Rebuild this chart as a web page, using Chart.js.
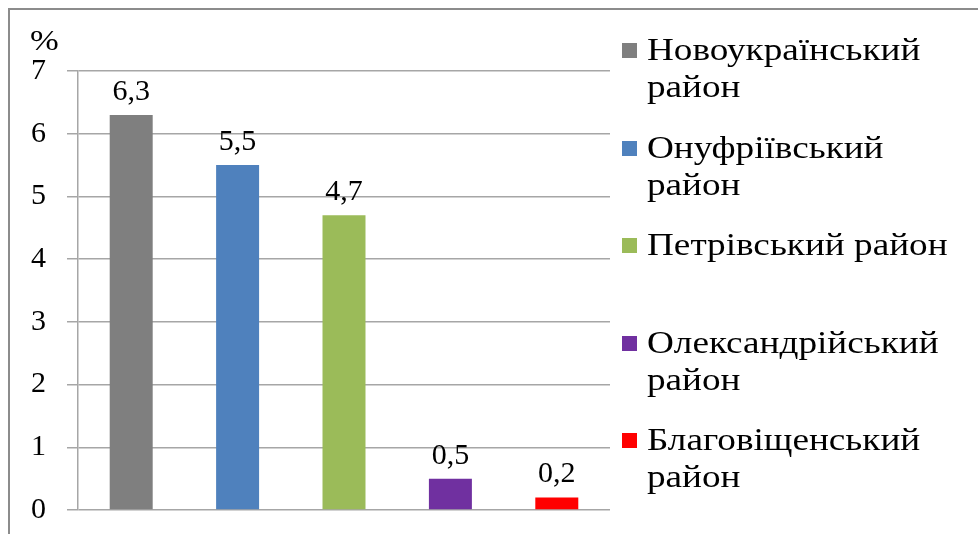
<!DOCTYPE html>
<html>
<head>
<meta charset="utf-8">
<script src="https://cdn.jsdelivr.net/npm/chart.js@4"></script>
<style>
  html, body { margin: 0; padding: 0; background: #fff; }
  .wrap { position: relative; width: 978px; height: 534px; overflow: hidden; }
  .frame { position: absolute; left: 8px; top: 8px; width: 1100px; height: 700px;
           border-left: 2px solid #8c8c8c; border-top: 2px solid #8c8c8c; }
  .unit { position: absolute; left: 30px; top: 23px; font: 30px "Liberation Serif", serif; color: #000;
          transform: scaleX(1.15); transform-origin: left top; }
  .legend { position: absolute; left: 622px; top: 31px; font: 31px "Liberation Serif", serif; color: #000; }
  .legend .item { position: relative; height: 97.5px; }
  .legend .box { position: absolute; left: 0; top: 12px; width: 15px; height: 15px; }
  .legend .txt { position: absolute; left: 25px; top: 0; line-height: 37px; white-space: nowrap;
                 transform: scaleX(1.2); transform-origin: left top; }
</style>
</head>
<body>
<div class="wrap">
  <div class="frame"></div>
  <canvas id="chart" width="978" height="534"></canvas>
  <div class="unit">%</div>
  <div class="legend" id="legend"></div>
</div>
<script>
"use strict";

////// data
const districts = ["Новоукраїнський район", "Онуфріївський район", "Петрівський район", "Олександрійський район", "Благовіщенський район"];
const legendLines = [["Новоукраїнський", "район"], ["Онуфріївський", "район"], ["Петрівський район"], ["Олександрійський", "район"], ["Благовіщенський", "район"]];
const shares = [6.3, 5.5, 4.7, 0.5, 0.2];
const barColors = ["#7f7f7f", "#4f81bd", "#9bbb59", "#7030a0", "#ff0000"];
const yTicks = [0, 1, 2, 3, 4, 5, 6, 7];

const serif = "'Liberation Serif', 'Times New Roman', serif";
const gridGray = "#a6a6a6";

////// value labels above the bars, comma decimals
const valueLabels = {
  id: "valueLabels",
  afterDatasetsDraw(chart) {
    const ctx = chart.ctx;
    const meta = chart.getDatasetMeta(0);
    ctx.save();
    ctx.font = "30px " + serif;
    ctx.fillStyle = "#000";
    ctx.textAlign = "center";
    ctx.textBaseline = "alphabetic";
    meta.data.forEach((bar, i) => {
      const txt = String(shares[i]).replace(".", ",");
      ctx.fillText(txt, bar.x, bar.y - 15);
    });
    ctx.restore();
  },
};

new Chart(document.getElementById("chart"), {
  type: "bar",
  data: {
    labels: districts,
    datasets: [
      {
        label: "%",
        data: shares,
        backgroundColor: barColors,
        borderWidth: 0,
        barPercentage: 0.404,
        categoryPercentage: 1,
      },
    ],
  },
  options: {
    responsive: false,
    animation: false,
    layout: { padding: { top: 71, right: 368, bottom: 24, left: 0 } },
    plugins: {
      legend: { display: false },
      tooltip: { enabled: false },
    },
    scales: {
      x: { display: false },
      y: {
        min: 0,
        max: 7,
        afterFit(scale) {
          scale.width = 78;
          // the layout padding already leaves room for the end labels
          scale.paddingTop = 0;
          scale.paddingBottom = 0;
        },
        afterBuildTicks(scale) {
          scale.ticks = yTicks.map((v) => ({ value: v }));
        },
        ticks: {
          font: { family: serif, size: 30 },
          color: "#000",
          padding: 21,
        },
        grid: { color: gridGray, lineWidth: 1.5, tickLength: 11 },
        border: { color: gridGray, width: 1.5 },
      },
    },
  },
  plugins: [valueLabels],
});

////// legend (multi-line entries, equal spacing)
const legend = document.getElementById("legend");
legendLines.forEach((lines, i) => {
  const item = document.createElement("div");
  item.className = "item";
  item.innerHTML = `<div class="box" style="background:${barColors[i]}"></div>
    <div class="txt">${lines.join("<br>")}</div>`;
  legend.appendChild(item);
});
</script>
</body>
</html>
